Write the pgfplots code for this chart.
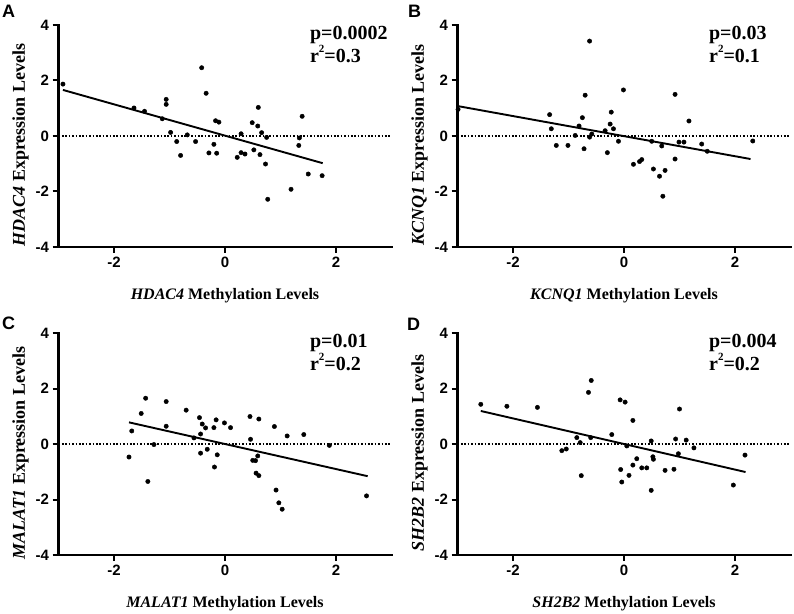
\documentclass[border=0pt]{standalone}
\usepackage{pgfplots}
\pgfplotsset{compat=1.18}
\usepackage{fontspec}
\setmainfont{Liberation Serif}
\setsansfont{Liberation Sans}

\pgfplotsset{
  panel/.style={
    scale only axis, width=333pt, height=222pt,
    xmin=-3, xmax=3, ymin=-4, ymax=4,
    xtick={-2,0,2}, ytick={-4,-2,0,2,4},
    axis x line*=bottom, axis y line*=left,
    x axis line style={line width=2.3pt},
    y axis line style={line width=2.3pt},
    xtick style={line width=2pt, black},
    ytick style={line width=2pt, black},
    xtick align=outside, ytick align=outside, major tick length=6pt,
    tick label style={font=\fontsize{15}{18}\selectfont\sffamily\bfseries},
    /pgf/number format/assume math mode=true,
    xlabel style={font=\fontsize{16}{19}\selectfont\bfseries, yshift=-14pt},
    ylabel style={font=\fontsize{18}{21}\selectfont\bfseries, xshift=-9pt},
    clip=false,
  },
  dots/.style={only marks, mark=*, mark size=2.2pt, black},
  fit/.style={black, line width=1.9pt, no marks},
  zero/.style={black, line width=1.6pt, dash pattern=on 1.6pt off 1.8pt, no marks},
}
\newcommand{\stat}[2]{%
  \draw[line width=2.4pt, line cap=rect] (rel axis cs:0,1) -- (rel axis cs:0,0) -- (rel axis cs:1,0);
  \pgfplotsinvokeforeach{-2,0,2}{\draw[line width=2pt] (axis cs:##1,-4) -- ++(0pt,-6pt);}
  \pgfplotsinvokeforeach{-4,-2,0,2,4}{\draw[line width=2pt] (axis cs:-3,##1) -- ++(-6pt,0pt);}
  \node[anchor=base west, font=\fontsize{20}{24}\selectfont\bfseries] at (axis cs:1.47,3.46) {p=#1};
  \node[anchor=base west, font=\fontsize{20}{24}\selectfont\bfseries] at (axis cs:1.47,2.65) {r\raisebox{0.5em}{\fontsize{11}{11}\selectfont 2}=#2};
}

\begin{document}
\begin{tikzpicture}
\useasboundingbox (0pt,0pt) rectangle (794pt,613pt);

% ---------------- A ----------------
\begin{axis}[panel, at={(58.5pt,366pt)}, anchor=south west,
  xlabel={\textit{HDAC4} Methylation Levels},
  ylabel={\textit{HDAC4} Expression Levels}]
\addplot[zero] coordinates {(-3,0) (3,0)};
\addplot[fit] coordinates {(-2.92,1.66) (1.76,-0.98)};
\addplot[dots] coordinates {
(-2.92,1.87) (-1.64,1.01) (-1.45,0.89) (-1.06,1.32) (-1.06,1.14) (-1.13,0.62)
(-0.98,0.13) (-0.87,-0.20) (-0.80,-0.70) (-0.68,0.04) (-0.53,-0.20) (-0.42,2.46)
(-0.34,1.54) (-0.29,-0.61) (-0.20,-0.30) (-0.17,0.55) (-0.11,0.50) (-0.15,-0.62)
(0.22,-0.77) (0.29,0.08) (0.29,-0.60) (0.36,-0.65) (0.49,0.48) (0.52,-0.50)
(0.60,1.03) (0.59,0.36) (0.63,-0.67) (0.66,0.12) (0.73,-1.01) (0.75,-0.05)
(0.77,-2.28) (1.19,-1.92) (1.34,-0.07) (1.33,-0.34) (1.39,0.71) (1.50,-1.37)
(1.75,-1.43)};
\stat{0.0002}{0.3}
\end{axis}

% ---------------- B ----------------
\begin{axis}[panel, at={(457.5pt,366pt)}, anchor=south west,
  xlabel={\textit{KCNQ1} Methylation Levels},
  ylabel={\textit{KCNQ1} Expression Levels}]
\addplot[zero] coordinates {(-3,0) (3,0)};
\addplot[fit] coordinates {(-3,1.08) (2.28,-0.83)};
\addplot[dots] coordinates {
(-2.99,0.96) (-1.34,0.77) (-1.31,0.26) (-1.22,-0.34) (-1.01,-0.34) (-0.88,0.02)
(-0.81,0.36) (-0.75,0.66) (-0.72,-0.46) (-0.70,1.47) (-0.62,3.42) (-0.62,-0.04)
(-0.58,0.07) (-0.34,0.19) (-0.30,-0.60) (-0.25,0.43) (-0.23,0.86) (-0.19,0.26)
(-0.10,-0.19) (-0.01,1.66) (0.17,-1.02) (0.28,-0.92) (0.32,-0.85) (0.50,-0.19)
(0.53,-1.19) (0.64,-1.45) (0.68,-0.36) (0.74,-1.24) (0.70,-2.17) (0.92,-0.83)
(0.92,1.50) (0.99,-0.22) (1.08,-0.22) (1.17,0.54) (1.40,-0.29) (1.50,-0.55)
(2.32,-0.18)};
\stat{0.03}{0.1}
\end{axis}

% ---------------- C ----------------
\begin{axis}[panel, at={(58.5pt,58pt)}, anchor=south west,
  xlabel={\textit{MALAT1} Methylation Levels},
  ylabel={\textit{MALAT1} Expression Levels}]
\addplot[zero] coordinates {(-3,0) (3,0)};
\addplot[fit] coordinates {(-1.73,0.78) (2.57,-1.16)};
\addplot[dots] coordinates {
(-1.73,-0.47) (-1.68,0.47) (-1.51,1.10) (-1.43,1.65) (-1.39,-1.35) (-1.28,-0.02)
(-1.06,0.64) (-1.06,1.53) (-0.70,1.22) (-0.56,0.22) (-0.46,0.95) (-0.44,0.36)
(-0.44,-0.33) (-0.41,0.72) (-0.35,0.58) (-0.32,-0.19) (-0.20,0.59) (-0.19,-0.83)
(-0.16,0.87) (-0.14,-0.39) (-0.01,0.76) (0.10,0.59) (0.45,0.99) (0.46,0.17)
(0.50,-0.59) (0.55,-0.60) (0.56,-1.05) (0.61,0.90) (0.59,-0.43) (0.61,-1.14)
(0.89,0.63) (0.92,-1.66) (0.97,-2.12) (1.03,-2.35) (1.12,0.29) (1.42,0.34)
(1.88,-0.05) (2.55,-1.87)};
\stat{0.01}{0.2}
\end{axis}

% ---------------- D ----------------
\begin{axis}[panel, at={(457.5pt,58pt)}, anchor=south west,
  xlabel={\textit{SH2B2} Methylation Levels},
  ylabel={\textit{SH2B2} Expression Levels}]
\addplot[zero] coordinates {(-3,0) (3,0)};
\addplot[fit] coordinates {(-2.58,1.19) (2.19,-1.01)};
\addplot[dots] coordinates {
(-2.58,1.43) (-2.11,1.36) (-1.56,1.32) (-1.12,-0.24) (-1.04,-0.18) (-0.85,0.23)
(-0.79,0.05) (-0.77,-1.14) (-0.64,1.86) (-0.60,0.23) (-0.59,2.29) (-0.22,0.34)
(-0.07,1.59) (0.02,1.51) (-0.06,-0.92) (-0.04,-1.37) (0.05,-0.07) (0.09,-1.13)
(0.16,0.85) (0.16,-0.76) (0.23,-0.53) (0.32,-0.86) (0.41,-0.86) (0.49,0.11)
(0.49,-1.67) (0.53,-0.55) (0.52,-0.46) (0.74,-0.95) (0.90,-0.91) (0.93,0.18)
(0.98,-0.35) (1.00,1.26) (1.12,0.14) (1.26,-0.14) (1.97,-1.48) (2.18,-0.40)};
\stat{0.004}{0.2}
\end{axis}

% panel letters
\node[anchor=north west, inner sep=0pt, font=\fontsize{18}{20}\selectfont\sffamily\bfseries] at (2pt,608pt) {A};
\node[anchor=north west, inner sep=0pt, font=\fontsize{18}{20}\selectfont\sffamily\bfseries] at (408pt,608pt) {B};
\node[anchor=north west, inner sep=0pt, font=\fontsize{18}{20}\selectfont\sffamily\bfseries] at (2pt,296pt) {C};
\node[anchor=north west, inner sep=0pt, font=\fontsize{18}{20}\selectfont\sffamily\bfseries] at (407pt,295pt) {D};
\end{tikzpicture}
\end{document}
